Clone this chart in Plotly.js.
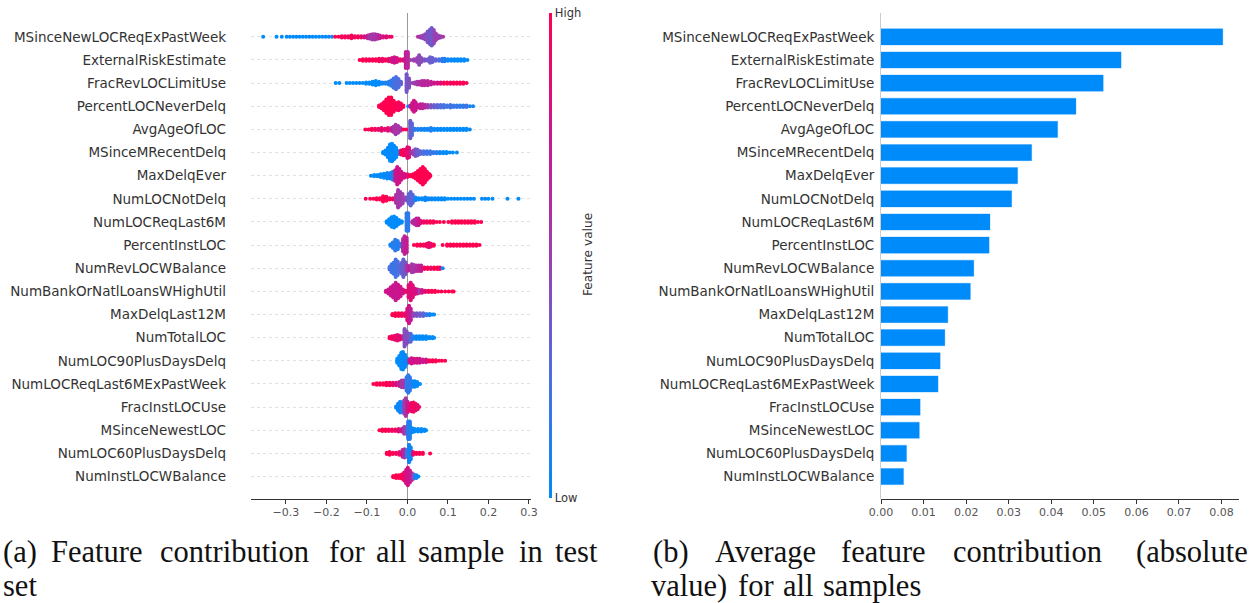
<!DOCTYPE html>
<html><head><meta charset="utf-8">
<script src="https://cdn.plot.ly/plotly-3.0.1.min.js"></script>
<style>html,body{margin:0;padding:0;background:#fff}</style></head>
<body><div id="chart" style="width:1250px;height:603px"></div>
<script>
const features = ["MSinceNewLOCReqExPastWeek","ExternalRiskEstimate","FracRevLOCLimitUse","PercentLOCNeverDelq","AvgAgeOfLOC","MSinceMRecentDelq","MaxDelqEver","NumLOCNotDelq","NumLOCReqLast6M","PercentInstLOC","NumRevLOCWBalance","NumBankOrNatlLoansWHighUtil","MaxDelqLast12M","NumTotalLOC","NumLOC90PlusDaysDelq","NumLOCReqLast6MExPastWeek","FracInstLOCUse","MSinceNewestLOC","NumLOC60PlusDaysDelq","NumInstLOCWBalance"];
const meanAbs = [0.0803,0.0564,0.0522,0.0458,0.0415,0.0354,0.0321,0.0307,0.0256,0.0254,0.0218,0.0210,0.0157,0.0150,0.0139,0.0134,0.0092,0.0090,0.0060,0.0053];
// each binned sample group: [contribution, samples in bin, feature value 0..1]
const s0=[[-.356,1,0],[-.323,1,0],[-.310,1,0],[-.298,1,0],[-.290,1,0],[-.282,1,0],[-.274,1,0],[-.266,1,0],[-.258,1,0],[-.25,1,0],[-.242,1,0],[-.234,1,0],[-.226,1,0],[-.218,1,0],[-.21,1,.02],[-.202,1,0],[-.194,1,.05],[-.186,1,.1],[-.178,1,1],[-.17,1,1],[-.162,2,.95],[-.154,2,1],[-.146,2,.9],[-.138,3,1],[-.13,2,.9],[-.122,2,1],[-.114,2,.9],[-.106,2,.8],[-.098,3,.65],[-.092,4,.55],[-.086,5,.55],[-.08,5,.55],[-.074,4,.6],[-.068,3,.7],[-.06,2,.8],[-.052,2,.85],[-.044,1,.9],[-.039,1,.9],[.026,1,.6],[.032,2,.55],[.038,3,.5],[.044,5,.45],[.05,9,.4],[.056,12,.4],[.06,14,.35],[.065,11,.45],[.07,6,.5],[.076,3,.5],[.082,2,.5],[.088,1,.55]];
const s1=[[-.118,1,1],[-.11,2,1],[-.102,2,1],[-.094,2,.95],[-.086,2,1],[-.078,2,1],[-.07,3,.95],[-.062,3,.9],[-.054,2,1],[-.046,3,.85],[-.038,4,.8],[-.032,5,.75],[-.026,4,.8],[-.018,2,.85],[-.01,2,.85],[-.004,13,.72],[.001,13,.65],[.008,1,.5],[.016,2,.5],[.024,4,.5],[.029,8,.45],[.034,4,.45],[.042,2,.4],[.05,2,.35],[.056,5,.35],[.062,4,.35],[.07,2,.3],[.078,2,.25],[.086,3,.15],[.092,3,.1],[.1,2,.05],[.108,2,0],[.116,2,0],[.124,2,0],[.132,2,0],[.14,2,0],[.148,1,0]];
const s2=[[-.177,1,0],[-.168,1,0],[-.15,1,0],[-.142,1,0],[-.134,1,0],[-.126,1,0],[-.118,1,0],[-.11,1,0],[-.102,2,0],[-.094,2,0],[-.086,3,0],[-.078,4,0],[-.07,3,0],[-.062,2,.05],[-.054,2,.1],[-.046,3,.1],[-.04,5,.15],[-.034,8,.2],[-.028,10,.25],[-.022,7,.25],[-.016,3,.3],[-.002,14,.38],[.004,8,.4],[.012,1,.5],[.018,2,.5],[.024,3,.55],[.03,3,.6],[.036,4,.65],[.042,4,.65],[.05,4,.65],[.058,3,.7],[.066,2,.75],[.074,2,.8],[.082,2,.85],[.09,2,.95],[.098,2,1],[.106,2,.9],[.114,2,1],[.122,2,1],[.13,2,.95],[.138,2,1],[.146,1,1]];
const s3=[[-.07,2,1],[-.064,4,1],[-.058,7,1],[-.052,11,1],[-.046,14,1],[-.04,14,1],[-.034,9,1],[-.028,6,1],[-.022,7,.95],[-.016,5,.95],[-.01,2,.95],[.002,1,.05],[.008,2,.75],[.012,6,.75],[.016,9,.8],[.02,7,.75],[.026,3,.75],[.032,4,.7],[.038,4,.65],[.044,3,.65],[.05,3,.55],[.058,3,.4],[.066,3,.35],[.074,3,.3],[.082,3,.25],[.09,3,.25],[.098,2,.2],[.106,3,.2],[.114,2,.2],[.122,2,.15],[.13,2,.15],[.138,2,.15],[.146,2,.2],[.154,1,.1],[.162,1,.05]];
const s4=[[-.104,1,1],[-.096,1,.95],[-.088,2,1],[-.08,2,.95],[-.072,2,.9],[-.064,3,.9],[-.056,2,.85],[-.048,3,.9],[-.04,3,.7],[-.034,5,.6],[-.029,8,.55],[-.023,6,.55],[-.017,3,.6],[-.01,1,.95],[-.003,1,1],[.007,14,.35],[.011,10,.3],[.018,2,.15],[.026,2,.1],[.034,2,.05],[.042,2,.05],[.05,2,.05],[.058,3,.1],[.066,2,0],[.074,2,.05],[.082,2,0],[.09,2,0],[.098,2,0],[.106,2,0],[.114,2,0],[.122,2,0],[.13,2,0],[.138,2,0],[.146,2,0],[.154,1,0]];
const s5=[[-.06,2,0],[-.054,4,0],[-.048,8,0],[-.043,13,0],[-.038,14,0],[-.033,11,0],[-.028,8,0],[-.022,3,.02],[-.016,4,.95],[-.01,5,1],[-.005,5,.95],[0,9,.85],[.004,8,.85],[.01,2,.6],[.015,4,.5],[.02,6,.4],[.025,5,.35],[.032,3,.3],[.04,3,.25],[.048,3,.2],[.056,3,.2],[.064,2,.15],[.072,2,.15],[.08,2,.05],[.088,2,0],[.096,2,0],[.104,1,0],[.112,1,0],[.122,1,0]];
const s6=[[-.09,1,0],[-.082,2,0],[-.074,2,0],[-.066,3,0],[-.058,4,0],[-.05,5,.05],[-.042,5,.05],[-.036,7,.1],[-.03,9,.7],[-.025,14,.75],[-.02,11,.78],[-.015,7,.8],[-.008,4,.8],[0,3,.85],[.007,2,1],[.014,3,1],[.02,5,1],[.026,8,1],[.032,11,1],[.038,14,1],[.043,11,1],[.048,7,1],[.053,4,1],[.056,2,1]];
const s7=[[-.103,1,1],[-.092,1,1],[-.084,1,1],[-.076,2,1],[-.068,2,1],[-.06,5,1],[-.052,4,1],[-.044,2,.95],[-.036,2,.9],[-.028,7,.6],[-.023,14,.55],[-.018,11,.55],[-.012,8,.5],[-.004,3,.45],[.003,8,.3],[.008,11,.3],[.013,7,.3],[.02,3,.05],[.028,2,0],[.036,2,0],[.044,3,.05],[.052,2,0],[.06,2,.05],[.068,2,0],[.076,2,0],[.084,2,0],[.092,2,0],[.1,1,0],[.108,1,0],[.116,1,0],[.124,1,0],[.132,1,0],[.14,1,0],[.148,1,0],[.156,1,0],[.164,1,0],[.184,1,0],[.192,1,0],[.2,1,0],[.21,1,0],[.247,1,0],[.274,1,0]];
const s8=[[-.051,2,0],[-.045,5,0],[-.039,8,0],[-.033,9,0],[-.027,7,0],[-.021,4,0],[-.014,2,0],[-.002,14,.15],[.002,14,.15],[.012,2,.6],[.017,4,.65],[.022,6,.65],[.027,6,.7],[.032,3,.85],[.04,2,.9],[.048,2,.95],[.056,2,1],[.064,2,.95],[.072,1,1],[.08,1,1],[.09,1,1],[.101,1,1],[.11,2,1],[.118,2,1],[.126,2,1],[.134,2,1],[.142,2,1],[.15,2,1],[.158,2,1],[.166,2,1],[.174,1,1],[.182,1,1]];
const s9=[[-.042,2,.05],[-.036,5,.1],[-.03,9,.15],[-.024,7,.1],[-.018,3,.15],[-.011,10,.6],[-.007,14,.65],[-.002,12,.7],[.016,1,1],[.024,2,1],[.032,2,1],[.04,2,.95],[.048,3,1],[.053,4,.85],[.058,3,.9],[.065,2,1],[.087,1,1],[.098,2,1],[.106,2,1],[.114,2,1],[.122,2,1],[.13,2,1],[.138,2,1],[.146,2,1],[.154,2,1],[.162,2,1],[.17,2,1],[.178,1,1]];
const s10=[[-.044,3,.25],[-.039,7,.2],[-.034,9,.2],[-.029,14,.2],[-.024,11,.25],[-.019,6,.25],[-.014,9,.35],[-.01,14,.3],[-.005,10,.4],[0,5,.6],[.006,4,.7],[.011,7,.55],[.016,6,.55],[.022,5,.6],[.028,5,.65],[.034,5,.7],[.042,2,.95],[.05,2,1],[.058,2,.9],[.066,2,1],[.074,2,1],[.08,2,.95],[.087,1,0]];
const s11=[[-.053,2,.8],[-.047,4,.75],[-.041,7,.75],[-.035,10,.75],[-.029,14,.72],[-.023,11,.75],[-.017,8,.75],[-.011,4,.8],[-.004,2,.85],[.003,10,.85],[.008,14,.85],[.013,10,.85],[.019,5,.8],[.025,4,.8],[.03,3,.5],[.036,3,.8],[.044,2,.85],[.052,2,.95],[.06,2,1],[.068,2,1],[.076,1,1],[.084,1,1],[.093,1,1],[.102,1,1],[.11,1,1],[.114,1,1]];
const s12=[[-.037,2,1],[-.03,3,1],[-.022,3,1],[-.014,3,.95],[-.006,3,.95],[0,10,.8],[.004,14,.78],[.008,10,.7],[.015,3,.45],[.023,3,.4],[.031,3,.35],[.039,3,.3],[.047,2,.2],[.055,2,.05],[.062,1,0],[.066,1,0]];
const s13=[[-.044,2,1],[-.038,3,.95],[-.031,4,.9],[-.025,5,.85],[-.019,4,.9],[-.012,3,.8],[-.007,14,.4],[-.002,10,.45],[.003,7,.4],[.008,7,.3],[.014,3,.1],[.022,3,.02],[.03,3,0],[.038,3,0],[.046,3,0],[.054,2,0],[.062,2,0],[.066,1,0]];
const s14=[[-.025,4,0],[-.02,8,0],[-.015,13,0],[-.011,14,0],[-.006,10,0],[-.001,5,.05],[.005,3,.8],[.01,5,.75],[.016,4,.8],[.023,4,.75],[.03,4,.8],[.038,3,.7],[.046,3,.8],[.054,2,.95],[.062,2,1],[.07,2,1],[.078,1,1],[.085,1,1],[.093,1,1]];
const s15=[[-.084,1,1],[-.076,2,1],[-.068,2,1],[-.06,2,1],[-.052,3,1],[-.044,3,.95],[-.036,3,.9],[-.028,3,.8],[-.02,4,.7],[-.014,6,.55],[-.009,6,.55],[-.002,11,.2],[.002,14,.15],[.006,11,.15],[.012,5,.1],[.018,5,0],[.024,4,0],[.031,1,0]];
const s16=[[-.028,2,.05],[-.023,6,0],[-.018,9,.05],[-.013,8,.1],[-.008,11,.45],[-.004,14,.55],[0,9,.7],[.005,6,.85],[.01,7,.9],[.015,8,.95],[.02,6,.9],[.025,4,.9],[.029,1,.9]];
const s17=[[-.069,1,1],[-.062,2,1],[-.054,2,1],[-.046,2,.95],[-.038,2,.95],[-.03,2,.95],[-.022,3,.85],[-.014,3,.75],[-.008,6,.55],[-.002,6,.4],[.002,14,.15],[.006,14,.1],[.012,4,.05],[.018,3,0],[.026,3,0],[.034,3,0],[.042,2,0],[.046,1,0]];
const s18=[[-.051,2,1],[-.044,3,1],[-.036,2,1],[-.028,2,.95],[-.02,3,.9],[-.012,6,.7],[-.007,7,.6],[-.001,6,.2],[.004,14,.05],[.008,10,.05],[.014,3,.9],[.022,2,1],[.03,2,1],[.038,2,1],[.056,1,1]];
const s19=[[-.035,2,1],[-.028,3,1],[-.021,3,1],[-.014,4,1],[-.008,7,.9],[-.003,11,.8],[.001,14,.78],[.006,10,.75],[.011,6,.65],[.016,4,.3],[.022,3,.05],[.027,1,0]];
const swarm = [s0,s1,s2,s3,s4,s5,s6,s7,s8,s9,s10,s11,s12,s13,s14,s15,s16,s17,s18,s19];
const captionA1 = [["(a)",2],["Feature",50],["contribution",159],["for",328],["all",375],["sample",417],["in",518],["test",554]];
const captionB1 = [["(b)",652],["Average",714],["feature",840],["contribution",952],["(absolute",1135]];
const captionA2 = [["set",2]];
const captionB2 = [["value)",650],["for",737],["all",782],["samples",822]];

const LOW='#008bfb', HIGH='#ff0051';
const FW=1250, FH=603;
const rowY = i => 19 - i;
const stepRow = 1.35/23.16;
const xs=[],ys=[],cs=[];
swarm.forEach((row,i)=>row.forEach(([x,n,v])=>{
  for(let k=0;k<n;k++){xs.push(x);ys.push(rowY(i)+(k-(n-1)/2)*stepRow);cs.push(v);}
}));
const ticksY = features.map((_,i)=>rowY(i));
const scale=[[0,LOW],[.25,'#4d6fe0'],[.5,'#9c3fb0'],[.75,'#cb158e'],[1,HIGH]];
const traces=[
 {type:'scatter',mode:'markers',x:xs,y:ys,xaxis:'x',yaxis:'y',hoverinfo:'skip',
  marker:{size:4,color:cs,cmin:0,cmax:1,colorscale:scale,line:{width:0},
   colorbar:{x:549/FW,xanchor:'left',xpad:0,ypad:0,y:(FH-498)/FH,yanchor:'bottom',len:485/FH,lenmode:'fraction',thickness:3,outlinewidth:0,
     tickvals:[0,1],ticktext:['Low','High'],ticks:'',tickfont:{family:'DejaVu Sans',size:11.5,color:'#333'}}}},
 {type:'bar',orientation:'h',x:meanAbs,y:ticksY,xaxis:'x2',yaxis:'y2',width:0.7,
  marker:{color:LOW,line:{color:'rgba(0,139,251,0.3)',width:1}},hoverinfo:'skip'}
];
const ax={showgrid:false,showline:true,linecolor:'#333',linewidth:1,ticks:'outside',ticklen:3.5,tickcolor:'#333',tickwidth:1,ticklabelstandoff:-1,
 tickfont:{family:'DejaVu Sans',size:11,color:'#555'},anchor:'free'};
const lab={family:'DejaVu Sans',size:13.5,color:'#333'};
const anns=[];
const capFont={family:'Liberation Serif',size:30.5,color:'#111'};
const word=(t,x)=>anns.push({text:t,x:x/FW,y:(FH-551.5)/FH,xref:'paper',yref:'paper',xanchor:'left',yanchor:'middle',showarrow:false,font:capFont,borderpad:0});
const word2=(t,x)=>anns.push({text:t,x:x/FW,y:0,yshift:-1,xref:'paper',yref:'paper',xanchor:'left',yanchor:'bottom',showarrow:false,font:capFont,borderpad:0});
captionA1.forEach(([t,x])=>word(t,x));
captionB1.forEach(([t,x])=>word(t,x));
captionA2.forEach(([t,x])=>word2(t,x));
captionB2.forEach(([t,x])=>word2(t,x));
anns.push({text:'Feature value',x:588/FW,y:(FH-255)/FH,xref:'paper',yref:'paper',showarrow:false,textangle:-90,font:{family:'DejaVu Sans',size:12.2,color:'#333'}});
const yr=[-0.97,20.03];
const layout={width:FW,height:FH,margin:{l:0,r:0,t:0,b:0},paper_bgcolor:'#fff',plot_bgcolor:'#fff',showlegend:false,
 xaxis:Object.assign({},ax,{domain:[251/FW,531/FW],range:[-.386,.305],tickvals:[-.3,-.2,-.1,0,.1,.2,.3],ticktext:['−0.3','−0.2','−0.1','0.0','0.1','0.2','0.3'],zeroline:true,zerolinecolor:'#999',zerolinewidth:1.5,position:(FH-499)/FH}),
 yaxis:{domain:[(FH-499)/FH,(FH-13)/FH],range:yr,tickvals:ticksY,ticktext:features,tickfont:lab,showline:false,ticks:'',ticklabelstandoff:24,zeroline:false,showgrid:true,gridcolor:'#ccc',griddash:'dot',gridwidth:0.6,anchor:'x'},
 xaxis2:Object.assign({},ax,{domain:[881/FW,1239/FW],range:[0,.0841],tickvals:[0,.01,.02,.03,.04,.05,.06,.07,.08],ticktext:['0.00','0.01','0.02','0.03','0.04','0.05','0.06','0.07','0.08'],zeroline:false,position:(FH-499)/FH}),
 yaxis2:{domain:[(FH-499)/FH,(FH-13)/FH],range:yr,tickvals:ticksY,ticktext:features,tickfont:lab,showline:true,linecolor:'#ccc',linewidth:1,ticks:'',ticklabelstandoff:3,zeroline:false,showgrid:false,anchor:'x2'},
 annotations:anns};
Plotly.newPlot('chart',traces,layout,{displayModeBar:false,staticPlot:true});
</script></body></html>
